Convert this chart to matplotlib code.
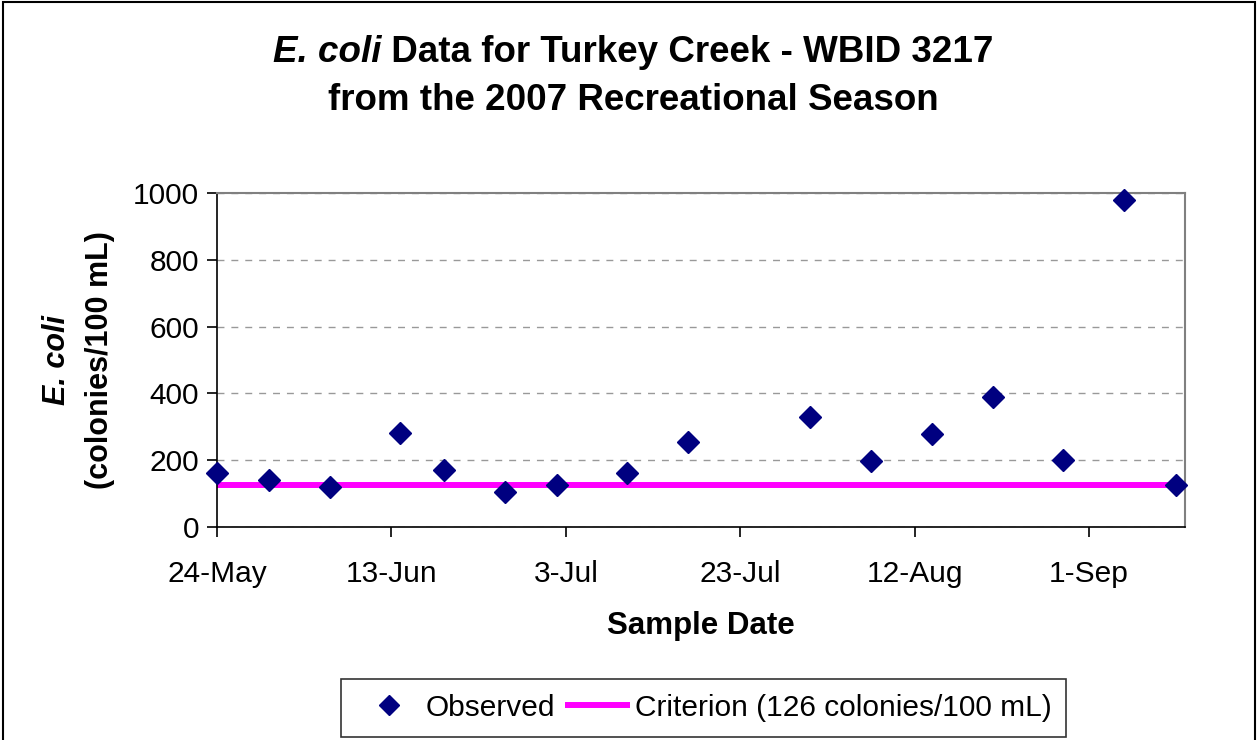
import matplotlib
matplotlib.use("Agg")
import matplotlib.pyplot as plt
import matplotlib.dates as mdates
from matplotlib.patches import Rectangle
import numpy as np
import datetime as dt

plt.rcParams['font.family'] = ['Liberation Sans', 'DejaVu Sans']

sample_dates = ['2007-05-24', '2007-05-30', '2007-06-06', '2007-06-14', '2007-06-19',
                '2007-06-26', '2007-07-02', '2007-07-10', '2007-07-17', '2007-07-31',
                '2007-08-07', '2007-08-14', '2007-08-21', '2007-08-29', '2007-09-05',
                '2007-09-11']
ecoli = [162, 140, 120, 280, 170, 104, 125, 161, 254, 329, 197, 278, 390, 202, 980, 127]
criterion = 126
x_start = '2007-05-24'
x_end = '2007-09-12'
tick_dates = ['2007-05-24', '2007-06-13', '2007-07-03', '2007-07-23', '2007-08-12', '2007-09-01']

to_date = lambda s: dt.datetime.strptime(s, '%Y-%m-%d')
x = [to_date(s) for s in sample_dates]

fig = plt.figure(figsize=(12.58, 7.40), dpi=100)
ax = fig.add_axes([217 / 1258, 1 - 527 / 740, (1185 - 217) / 1258, (527 - 193) / 740])

ax.plot([to_date(x_start), to_date(x_end)], [criterion, criterion], color='#ff00ff', lw=4.3,
        solid_capstyle='butt', label='Criterion (126 colonies/100 mL)', zorder=2)
ax.plot(x, ecoli, linestyle='none', marker='D', ms=11.7, color='#000080',
        label='Observed', zorder=3, clip_on=False)

ax.set_xlim(to_date(x_start), to_date(x_end))
ax.set_ylim(0, 1000)
ax.set_yticks(np.arange(0, 1001, 200))
ax.set_xticks([to_date(s) for s in tick_dates])
ax.xaxis.set_major_formatter(mdates.DateFormatter('%-d-%b'))
ax.tick_params(labelsize=21.5, direction='out', length=7, width=1.2, colors='black', pad=6)
ax.tick_params(axis='x', pad=17)
ax.grid(axis='y', linestyle=(0, (5, 5)), color='#999999', lw=1)
for s in ['top', 'right']:
    ax.spines[s].set_color('#808080')
    ax.spines[s].set_linewidth(1.5)
for s in ['left', 'bottom']:
    ax.spines[s].set_color('black')
    ax.spines[s].set_linewidth(1.2)

ax.set_xlabel('Sample Date', fontsize=22.5, fontweight='bold', labelpad=16)

# y label: two lines, first italic
ymid = 0.5 * ((1 - 527 / 740) + (1 - 193 / 740))
fig.text(57 / 1258, ymid, 'E. coli', rotation=90,
         fontsize=22, fontweight='bold', fontstyle='italic', ha='center', va='center')
fig.text(100 / 1258, ymid, '(colonies/100 mL)', rotation=90,
         fontsize=22, fontweight='bold', ha='center', va='center')

# title: mixed italic first line
fs_title = 26.5
renderer = fig.canvas.get_renderer()
t1 = fig.text(0, 0, 'E. coli', fontsize=fs_title, fontweight='bold', fontstyle='italic')
t2 = fig.text(0, 0, ' Data for Turkey Creek - WBID 3217', fontsize=fs_title, fontweight='bold')
w1 = t1.get_window_extent(renderer).width
w2 = t2.get_window_extent(renderer).width
left = (633 - (w1 + w2) / 2) / 1258
y1 = 1 - 52 / 740
t1.set_position((left, y1))
t1.set_va('center')
t2.set_position((left + w1 / 1258, y1))
t2.set_va('center')
fig.text(633 / 1258, 1 - 100 / 740, 'from the 2007 Recreational Season', fontsize=fs_title,
         fontweight='bold', ha='center', va='center')

h, l = ax.get_legend_handles_labels()
leg = fig.legend(h[::-1], l[::-1], loc='upper left', bbox_to_anchor=(341 / 1258, 1 - 679 / 740),
                 ncol=2, fontsize=21.5, frameon=True, fancybox=False, edgecolor='black',
                 handlelength=2.2, columnspacing=0.3, handletextpad=0.15, borderpad=0.5,
                 borderaxespad=0, markerscale=0.85)
leg.get_frame().set_linewidth(1.2)

fig.patches.append(Rectangle((0.002, -0.01), 0.996, 1.0 - 0.003 + 0.01, transform=fig.transFigure,
                             fill=False, edgecolor='black', lw=1.5))

fig.savefig('out.png', dpi=100)
